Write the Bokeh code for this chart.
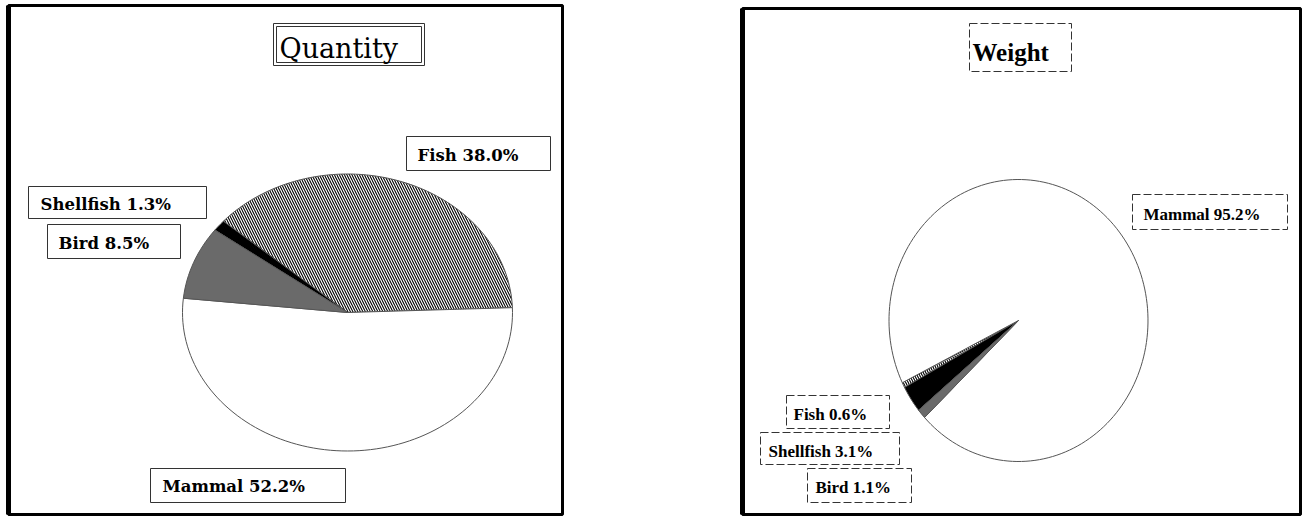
import numpy as np
from bokeh.plotting import figure
from bokeh.models import Range1d, ColumnDataSource, CanvasTexture
from bokeh.core.properties import value
from bokeh.embed import file_html
from bokeh.resources import INLINE

# ---------------- data ----------------
categories = ["Fish", "Shellfish", "Bird", "Mammal"]
quantity_pct = [38.0, 1.3, 8.5, 52.2]
weight_pct = [0.6, 3.1, 1.1, 95.2]
titles = ["Quantity", "Weight"]

# ---------------- layout (pixels) ----------------
W, H = 1305, 517
panel_boxes = [(8, 5, 562, 514), (742, 8, 1300, 514)]
pie_geom = [dict(cx=347, cy=312, rx=165, ry=138.5, start=2.0),
            dict(cx=1018, cy=320, rx=129.5, ry=141, start=206.2)]
title_boxes = [(273, 23, 424, 65), (969, 23, 1071, 71)]
title_pos = [(279, 48), (972, 52)]
label_boxes = [
    [(406, 136, 550, 170), (28, 186, 206, 218), (47, 224, 180, 258), (150, 468, 345, 502)],
    [(786, 395, 889, 428), (760, 432, 899, 464), (807, 468, 911, 502), (1132, 194, 1287, 229)],
]
label_pos = [
    [(417, 155), (40, 204), (58, 243), (162, 486)],
    [(793, 414), (768, 451), (815, 487), (1143, 214)],
]

slice_fill = ["white", "black", "#bbbbbb", "white"]
slice_hatch = ["\\", " ", "checker", " "]

checker = CanvasTexture(code="""
const h = scale / 2;
ctx.fillStyle = "black";
ctx.fillRect(0, 0, h, h);
ctx.fillRect(h, h, h, h);
""")

p = figure(width=W, height=H, x_range=Range1d(0, W), y_range=Range1d(H, 0),
           min_border=0, toolbar_location=None, output_backend="svg",
           x_axis_location=None, y_axis_location=None)
p.grid.visible = False
p.outline_line_color = None
p.background_fill_color = "white"
p.border_fill_color = "white"

# panel frames
p.quad(left=[b[0] for b in panel_boxes], top=[b[1] for b in panel_boxes],
       right=[b[2] for b in panel_boxes], bottom=[b[3] for b in panel_boxes],
       fill_color=None, line_color="black", line_width=3)
p.segment(x0=[b[0] for b in panel_boxes], y0=[b[1] for b in panel_boxes],
          x1=[b[0] for b in panel_boxes], y1=[b[3] for b in panel_boxes],
          line_color="black", line_width=5)


def wedge(g, a0, a1):
    n = max(2, int(abs(a1 - a0) / 2) + 2)
    ang = np.radians(np.linspace(a0, a1, n))
    xs = [g["cx"]] + list(g["cx"] + g["rx"] * np.cos(ang))
    ys = [g["cy"]] + list(g["cy"] - g["ry"] * np.sin(ang))
    return xs, ys


for k, pct in enumerate([quantity_pct, weight_pct]):
    g = pie_geom[k]
    total = sum(pct)
    a = g["start"]
    rows = {"line": dict(xs=[], ys=[], fill=[], hatch=[]),
            "checker": dict(xs=[], ys=[], fill=[], hatch=[])}
    for v, f, h in zip(pct, slice_fill, slice_hatch):
        a1 = a + 360.0 * v / total
        x, y = wedge(g, a, a1)
        r = rows["checker" if h == "checker" else "line"]
        r["xs"].append(x)
        r["ys"].append(y)
        r["fill"].append(f)
        r["hatch"].append(h)
        a = a1
    p.patches("xs", "ys", source=ColumnDataSource(rows["line"]), fill_color="fill",
              line_color="#555555", line_width=1, hatch_pattern="hatch",
              hatch_color="black", hatch_scale=5, hatch_weight=1.1)
    p.patches("xs", "ys", source=ColumnDataSource(rows["checker"]), fill_color="fill",
              line_color="#555555", line_width=1, hatch_pattern="hatch",
              hatch_color="black", hatch_scale=7, hatch_weight=1,
              hatch_extra={"checker": checker})

    # labels
    texts = [f"{c} {v:.1f}%" for c, v in zip(categories, pct)]
    bx = label_boxes[k]
    p.quad(left=[b[0] for b in bx], top=[b[1] for b in bx], right=[b[2] for b in bx],
           bottom=[b[3] for b in bx], fill_color=None, line_color="#333333",
           line_width=1, line_dash="solid" if k == 0 else "8 3")
    lp = label_pos[k]
    if k == 0:
        font, size = "DejaVu Serif", "16.5px"
    else:
        font, size = "Liberation Serif", "17px"
    p.text(x=[q[0] for q in lp], y=[q[1] for q in lp], text=texts,
           text_font=value(font), text_font_size=size, text_font_style="bold",
           text_baseline="middle", text_align="left", text_color="black")

# titles
tb = title_boxes[0]
p.quad(left=[tb[0], tb[0] + 3], top=[tb[1], tb[1] + 3], right=[tb[2], tb[2] - 3],
       bottom=[tb[3], tb[3] - 3], fill_color=None, line_color="#333333", line_width=1)
tb = title_boxes[1]
p.quad(left=[tb[0]], top=[tb[1]], right=[tb[2]], bottom=[tb[3]], fill_color=None,
       line_color="#333333", line_width=1, line_dash="8 3")
p.text(x=[title_pos[0][0]], y=[title_pos[0][1]], text=[titles[0]],
       text_font=value("DejaVu Serif"), text_font_size="27px",
       text_baseline="middle", text_align="left", text_color="black")
p.text(x=[title_pos[1][0]], y=[title_pos[1][1]], text=[titles[1]],
       text_font=value("Liberation Serif"), text_font_size="25px", text_font_style="bold",
       text_baseline="middle", text_align="left", text_color="black")

open("out.html", "w").write(file_html(p, INLINE))
